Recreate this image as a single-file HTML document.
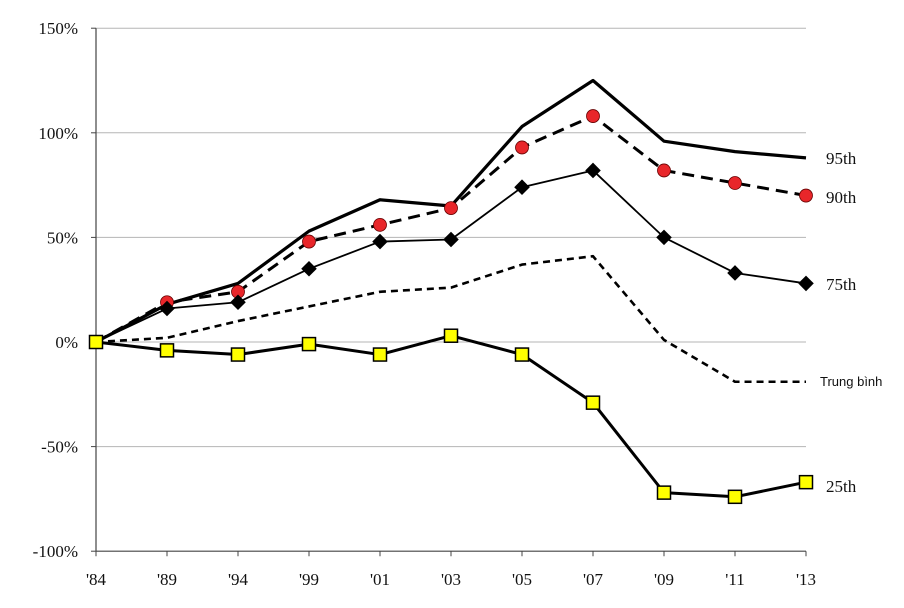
<!DOCTYPE html>
<html><head><meta charset="utf-8">
<style>
body{margin:0;background:#fff;}
svg{display:block;font-family:"Liberation Serif",serif;}
</style></head>
<body>
<svg id="chart" width="904" height="608" viewBox="0 0 904 608" xmlns="http://www.w3.org/2000/svg">
<g id="grid"></g>
<g id="axes"></g>
<g id="series"></g>
<g id="labels"></g>
</svg>
<script>
const categories = ["'84","'89","'94","'99","'01","'03","'05","'07","'09","'11","'13"];
const yTicks = [-100,-50,0,50,100,150];
const yTickLabels = ["-100%","-50%","0%","50%","100%","150%"];
const p95 = [0,18,28,53,68,65,103,125,96,91,88];
const p90 = [0,19,24,48,56,64,93,108,82,76,70];
const p75 = [0,16,19,35,48,49,74,82,50,33,28];
const mean = [0,2,10,17,24,26,37,41,1,-19,-19];
const p25 = [0,-4,-6,-1,-6,3,-6,-29,-72,-74,-67];

const NS="http://www.w3.org/2000/svg";
const X0=96,X1=806,Y0=342,PX=104.6/50;
const xs=i=>X0+i*(X1-X0)/(categories.length-1);
const ys=v=>Y0-v*PX;
function mk(tag,attrs,parent){const e=document.createElementNS(NS,tag);for(const k in attrs)e.setAttribute(k,attrs[k]);parent.appendChild(e);return e;}
const grid=document.getElementById('grid'),axes=document.getElementById('axes'),ser=document.getElementById('series'),lab=document.getElementById('labels');

yTicks.forEach((t,i)=>{
  if(t!==-100){const l=mk('line',{x1:X0,x2:X1,y1:ys(t),y2:ys(t),stroke:'#b5b5b5','stroke-width':1},grid);
  
  }
  const tx=mk('text',{x:X0-18,y:ys(t)+6,'text-anchor':'end','font-size':17,fill:'#111'},axes);
  tx.textContent=yTickLabels[i];
  
  
  const tk=mk('line',{x1:X0-5,x2:X0,y1:ys(t),y2:ys(t),stroke:'#444'},axes);
  
  
});
const ya=mk('line',{x1:X0,x2:X0,y1:ys(150),y2:ys(-100),stroke:'#444','stroke-width':1.2},axes);


const xa=mk('line',{x1:X0,x2:X1,y1:ys(-100),y2:ys(-100),stroke:'#444','stroke-width':1.2},axes);


categories.forEach((c,i)=>{
  const tk=mk('line',{x1:xs(i),x2:xs(i),y1:ys(-100),y2:ys(-100)+5,stroke:'#444'},axes);
  
  
  const tx=mk('text',{x:xs(i),y:585,'text-anchor':'middle','font-size':17,fill:'#111'},axes);
  tx.textContent=c;
  
  
});

function line(data,name,w,dash){
  const p=mk('polyline',{points:data.map((v,i)=>xs(i)+','+ys(v)).join(' '),fill:'none',stroke:'#000','stroke-width':w,'stroke-dasharray':dash||'none','stroke-linejoin':'round'},ser);
  
  
}
line(p95,'line-95th',3.2);
line(p90,'line-90th',3,'12,7');
line(p75,'line-75th',1.8);
line(mean,'line-mean',2.6,'7,5');
line(p25,'line-25th',3);

p90.forEach((v,i)=>{if(i===0)return;
  const c=mk('circle',{cx:xs(i),cy:ys(v),r:6.5,fill:'#e8262a',stroke:'#600','stroke-width':0.8},ser);
  
  });
p75.forEach((v,i)=>{if(i===0)return;
  const d=mk('rect',{x:xs(i)-5.5,y:ys(v)-5.5,width:11,height:11,fill:'#000',transform:`rotate(45 ${xs(i)} ${ys(v)})`},ser);
  
  });
p25.forEach((v,i)=>{
  const s=mk('rect',{x:xs(i)-6.5,y:ys(v)-6.5,width:13,height:13,fill:'#ffff00',stroke:'#000','stroke-width':1.5},ser);
  
  });

function label(txt,y,name,sans){
  const t=mk('text',{x:sans?820:826,y:y,'font-size':sans?13:17,fill:'#111'},lab);
  if(sans)t.setAttribute('font-family','"Liberation Sans",sans-serif');
  t.textContent=txt;
  
  
}
label('95th',164,'label-95th');
label('90th',203,'label-90th');
label('75th',290,'label-75th');
label('Trung bình',386,'label-mean',true);
label('25th',492,'label-25th');
</script>
</body></html>
